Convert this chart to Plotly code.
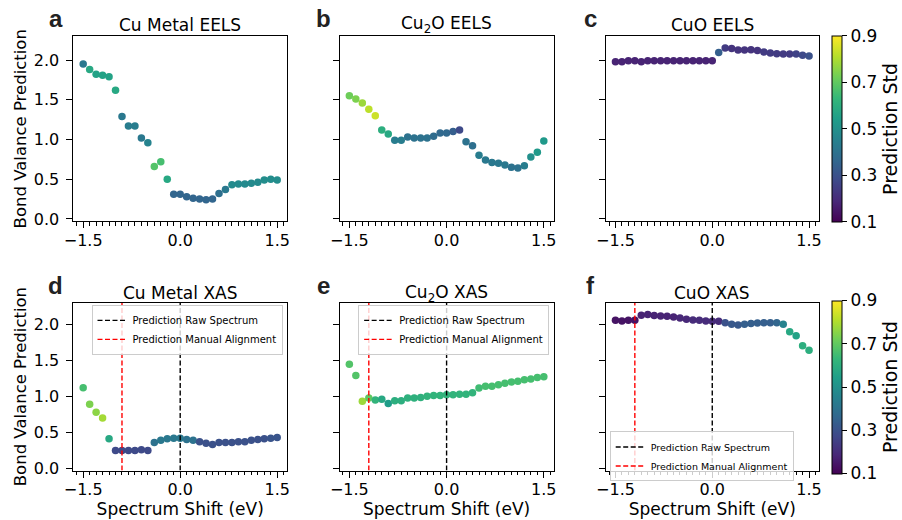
import plotly.graph_objects as go

# ---------------- data ----------------
shift = [-1.5, -1.4, -1.3, -1.2, -1.1, -1.0, -0.9, -0.8, -0.7, -0.6, -0.5, -0.4, -0.3, -0.2, -0.1,
         0.0, 0.1, 0.2, 0.3, 0.4, 0.5, 0.6, 0.7, 0.8, 0.9, 1.0, 1.1, 1.2, 1.3, 1.4, 1.5]

cu_eels = [1.95, 1.88, 1.82, 1.81, 1.79, 1.62, 1.29, 1.17, 1.17, 1.02, 0.96, 0.66, 0.72, 0.50, 0.31,
           0.31, 0.28, 0.26, 0.25, 0.24, 0.25, 0.32, 0.37, 0.43, 0.44, 0.44, 0.45, 0.46, 0.49, 0.50, 0.49]
cu_eels_std = [0.42, 0.58, 0.56, 0.56, 0.56, 0.58, 0.42, 0.44, 0.44, 0.42, 0.46, 0.68, 0.66, 0.58, 0.36,
               0.36, 0.36, 0.36, 0.36, 0.36, 0.36, 0.39, 0.42, 0.48, 0.48, 0.48, 0.48, 0.48, 0.49, 0.49, 0.49]

cu2o_eels = [1.55, 1.51, 1.46, 1.38, 1.30, 1.12, 1.07, 0.99, 0.99, 1.03, 1.02, 1.02, 1.02, 1.04, 1.08,
             1.08, 1.10, 1.12, 0.97, 0.92, 0.80, 0.74, 0.71, 0.70, 0.68, 0.65, 0.64, 0.67, 0.78, 0.84, 0.98]
cu2o_eels_std = [0.72, 0.74, 0.78, 0.82, 0.84, 0.60, 0.58, 0.44, 0.44, 0.40, 0.40, 0.40, 0.40, 0.38, 0.37,
                 0.37, 0.34, 0.28, 0.40, 0.39, 0.44, 0.42, 0.42, 0.42, 0.42, 0.40, 0.40, 0.44, 0.50, 0.53, 0.53]

cuo_eels = [1.98, 1.98, 1.99, 1.99, 1.98, 1.99, 1.99, 1.99, 1.99, 1.99, 1.99, 1.99, 1.99, 1.99, 1.99,
            1.99, 2.095, 2.15, 2.145, 2.125, 2.125, 2.13, 2.12, 2.10, 2.09, 2.08, 2.075, 2.075, 2.075, 2.06, 2.05]
cuo_eels_std = [0.18, 0.18, 0.18, 0.18, 0.18, 0.18, 0.18, 0.18, 0.18, 0.18, 0.18, 0.18, 0.18, 0.18, 0.18,
                0.18, 0.34, 0.24, 0.22, 0.22, 0.22, 0.22, 0.22, 0.24, 0.24, 0.24, 0.24, 0.24, 0.26, 0.28, 0.30]

cu_xas = [1.12, 0.89, 0.78, 0.70, 0.41, 0.25, 0.25, 0.25, 0.25, 0.26, 0.25, 0.36, 0.39, 0.41, 0.42,
          0.42, 0.40, 0.39, 0.37, 0.35, 0.33, 0.36, 0.36, 0.36, 0.37, 0.37, 0.39, 0.40, 0.41, 0.42, 0.43]
cu_xas_std = [0.66, 0.74, 0.76, 0.79, 0.58, 0.28, 0.28, 0.28, 0.28, 0.28, 0.28, 0.40, 0.42, 0.42, 0.42,
              0.42, 0.40, 0.40, 0.30, 0.30, 0.30, 0.30, 0.30, 0.30, 0.30, 0.30, 0.30, 0.30, 0.30, 0.31, 0.31]

cu2o_xas = [1.445, 1.29, 0.93, 0.975, 0.95, 0.96, 0.90, 0.94, 0.94, 0.975, 0.975, 0.985, 1.00, 1.01, 1.01,
            1.02, 1.02, 1.03, 1.03, 1.05, 1.115, 1.14, 1.14, 1.16, 1.18, 1.20, 1.21, 1.23, 1.24, 1.26, 1.27]
cu2o_xas_std = [0.68, 0.68, 0.78, 0.70, 0.62, 0.58, 0.54, 0.60, 0.60, 0.61, 0.61, 0.61, 0.62, 0.62, 0.62,
                0.62, 0.62, 0.62, 0.62, 0.62, 0.65, 0.66, 0.66, 0.66, 0.66, 0.66, 0.66, 0.66, 0.66, 0.66, 0.66]

cuo_xas = [2.055, 2.045, 2.055, 2.055, 2.125, 2.135, 2.12, 2.115, 2.11, 2.10, 2.085, 2.07, 2.06, 2.055, 2.045,
           2.04, 2.04, 2.02, 2.00, 1.99, 2.00, 2.01, 2.015, 2.02, 2.02, 2.02, 2.00, 1.895, 1.84, 1.70, 1.64]
cuo_xas_std = [0.14, 0.14, 0.14, 0.14, 0.18, 0.18, 0.18, 0.18, 0.18, 0.18, 0.19, 0.19, 0.20, 0.20, 0.20,
               0.20, 0.20, 0.30, 0.32, 0.32, 0.34, 0.34, 0.34, 0.34, 0.34, 0.36, 0.46, 0.58, 0.56, 0.60, 0.60]

titles = ["Cu Metal EELS", "Cu<sub>2</sub>O EELS", "CuO EELS",
          "Cu Metal XAS", "Cu<sub>2</sub>O XAS", "CuO XAS"]
letters = ["a", "b", "c", "d", "e", "f"]
raw_shift = [0.0, 0.0, 0.0]
manual_shift = [-0.9, -1.2, -1.2]
legend_labels = ["Prediction Raw Spectrum", "Prediction Manual Alignment"]
cbar_ticks = [0.1, 0.3, 0.5, 0.7, 0.9]
x_ticks = [-1.5, 0.0, 1.5]
x_ticklabels = ["\u22121.5", "0.0", "1.5"]
x_minor = [-1.6, -1.4, -1.3, -1.2, -1.1, -1.0, -0.9, -0.8, -0.7, -0.6, -0.5, -0.4, -0.3, -0.2, -0.1,
           0.1, 0.2, 0.3, 0.4, 0.5, 0.6, 0.7, 0.8, 0.9, 1.0, 1.1, 1.2, 1.3, 1.4, 1.6]
y_ticks = [0.0, 0.5, 1.0, 1.5, 2.0]
y_ticklabels = ["0.0", "0.5", "1.0", "1.5", "2.0"]

values = [cu_eels, cu2o_eels, cuo_eels, cu_xas, cu2o_xas, cuo_xas]
stds = [cu_eels_std, cu2o_eels_std, cuo_eels_std, cu_xas_std, cu2o_xas_std, cuo_xas_std]

# ---------------- layout geometry ----------------
W, H = 902, 520
xdom_px = [(65, 283.5), (337.5, 556.5), (610, 828)]
ydom_px = [(36.7, 224.3), (306.7, 477)]
YR = [-0.03, 2.3]
XR = [-1.65, 1.65]
FONT = "DejaVu Sans"

fig = go.Figure()

for i in range(6):
    r, c = divmod(i, 3)
    ax = "" if i == 0 else str(i + 1)
    fig.add_trace(go.Scatter(
        x=shift, y=values[i], mode="markers",
        marker=dict(size=7.5, color=stds[i], coloraxis="coloraxis" if r == 0 else "coloraxis2",
                    line=dict(width=0)),
        xaxis="x" + ax, yaxis="y" + ax, showlegend=False, hoverinfo="x+y"))

leg_names = ["legend", "legend2", "legend3"]
for k in range(3):
    ax = str(k + 4)
    fig.add_trace(go.Scatter(
        x=[raw_shift[k], raw_shift[k]], y=YR, mode="lines",
        line=dict(color="black", width=1.4, dash="5px,2.5px"),
        name=legend_labels[0], xaxis="x" + ax, yaxis="y" + ax, legend=leg_names[k]))
    fig.add_trace(go.Scatter(
        x=[manual_shift[k], manual_shift[k]], y=YR, mode="lines",
        line=dict(color="red", width=1.4, dash="5px,2.5px"),
        name=legend_labels[1], xaxis="x" + ax, yaxis="y" + ax, legend=leg_names[k]))

layout = dict(
    width=W, height=H, margin=dict(l=0, r=0, t=0, b=0),
    paper_bgcolor="white", plot_bgcolor="white",
    font=dict(family=FONT, color="black", size=16),
    annotations=[],
)

for i in range(6):
    r, c = divmod(i, 3)
    ax = "" if i == 0 else str(i + 1)
    x0, x1 = xdom_px[c]
    y0, y1 = ydom_px[r]
    xa = dict(
        domain=[x0 / W, x1 / W], range=XR, anchor="y" + ax,
        showline=True, mirror=True, linecolor="black", linewidth=1.2,
        showgrid=False, zeroline=False,
        tickmode="array", tickvals=x_ticks, ticktext=x_ticklabels,
        ticks="outside", ticklen=6, tickwidth=1.2, tickcolor="black",
        ticklabelstandoff=-2,
        tickfont=dict(size=16, family=FONT),
    )
    if r == 1:
        xa["title"] = dict(text="Spectrum Shift (eV)", font=dict(size=17, family=FONT), standoff=0)
    layout["xaxis" + ax] = xa
    # overlay axis carrying the minor ticks
    layout["xaxis" + str(i + 7)] = dict(
        domain=[x0 / W, x1 / W], range=XR, anchor="y" + ax, overlaying="x" + ax, side="bottom",
        showline=False, showgrid=False, zeroline=False, showticklabels=False,
        tickmode="array", tickvals=x_minor, ticks="outside", ticklen=3.5, tickwidth=1,
        tickcolor="black")
    ya = dict(
        domain=[1 - y1 / H, 1 - y0 / H], range=YR, anchor="x" + ax,
        showline=True, mirror=True, linecolor="black", linewidth=1.2,
        showgrid=False, zeroline=False,
        tickmode="array", tickvals=y_ticks, ticktext=y_ticklabels,
        showticklabels=(c == 0),
        ticks="outside", ticklen=6, tickwidth=1.2, tickcolor="black",
        ticklabelstandoff=4,
        tickfont=dict(size=16, family=FONT),
    )
    if c == 0:
        ya["title"] = dict(text="Bond Valance Prediction", font=dict(size=16.5, family=FONT), standoff=2)
    layout["yaxis" + ax] = ya
    # title
    layout["annotations"].append(dict(
        text=titles[i], xref="paper", yref="paper", x=(x0 + x1) / 2 / W,
        y=1 - (25 if r == 0 else 297.5) / H, xanchor="center", yanchor="middle",
        showarrow=False, font=dict(size=17, family=FONT, color="black")))
    # panel letter
    lx = [47, 321, 594][c]
    ly = [19, 289][r]
    layout["annotations"].append(dict(
        text="<b>" + letters[i] + "</b>", xref="paper", yref="paper", x=lx / W, y=1 - ly / H,
        xanchor="center", yanchor="middle", showarrow=False,
        font=dict(size=24, family="Liberation Sans", color="#222222")))

# invisible traces so that overlay axes are drawn
for i in range(6):
    ax = "" if i == 0 else str(i + 1)
    fig.add_trace(go.Scatter(x=[], y=[], xaxis="x" + str(i + 7), yaxis="y" + ax,
                             showlegend=False, hoverinfo="skip"))

cb_common = dict(
    thickness=10, thicknessmode="pixels", lenmode="fraction",
    x=842 / W, xanchor="left", xpad=0, ypad=0, yanchor="bottom",
    outlinecolor="black", outlinewidth=1,
    tickmode="array", tickvals=cbar_ticks, ticktext=[f"{t:.1f}" for t in cbar_ticks],
    ticks="outside", ticklen=5, tickcolor="black", tickfont=dict(size=17, family=FONT),
    title=dict(text="Prediction Std", side="right", font=dict(size=19, family=FONT)),
)
layout["coloraxis"] = dict(colorscale="Viridis", cmin=0.1, cmax=0.9,
                           colorbar=dict(cb_common, y=1 - 225 / H, len=(225 - 36.7) / H))
layout["coloraxis2"] = dict(colorscale="Viridis", cmin=0.1, cmax=0.9,
                            colorbar=dict(cb_common, y=1 - 480 / H, len=(480 - 305) / H))

leg_common = dict(bgcolor="rgba(255,255,255,0.8)", bordercolor="#cccccc", borderwidth=1,
                  font=dict(size=10, family=FONT), tracegroupgap=0, itemwidth=30,
                  xref="paper", yref="paper")
layout["legend"] = dict(leg_common, x=279 / W, y=1 - 309 / H, xanchor="right", yanchor="top")
layout["legend2"] = dict(leg_common, x=552 / W, y=1 - 309 / H, xanchor="right", yanchor="top")
layout["legend3"] = dict(leg_common, x=614 / W, y=1 - 488 / H, xanchor="left", yanchor="bottom",
                         font=dict(size=9.5, family=FONT))

fig.update_layout(layout)
fig.write_html("out.html")
